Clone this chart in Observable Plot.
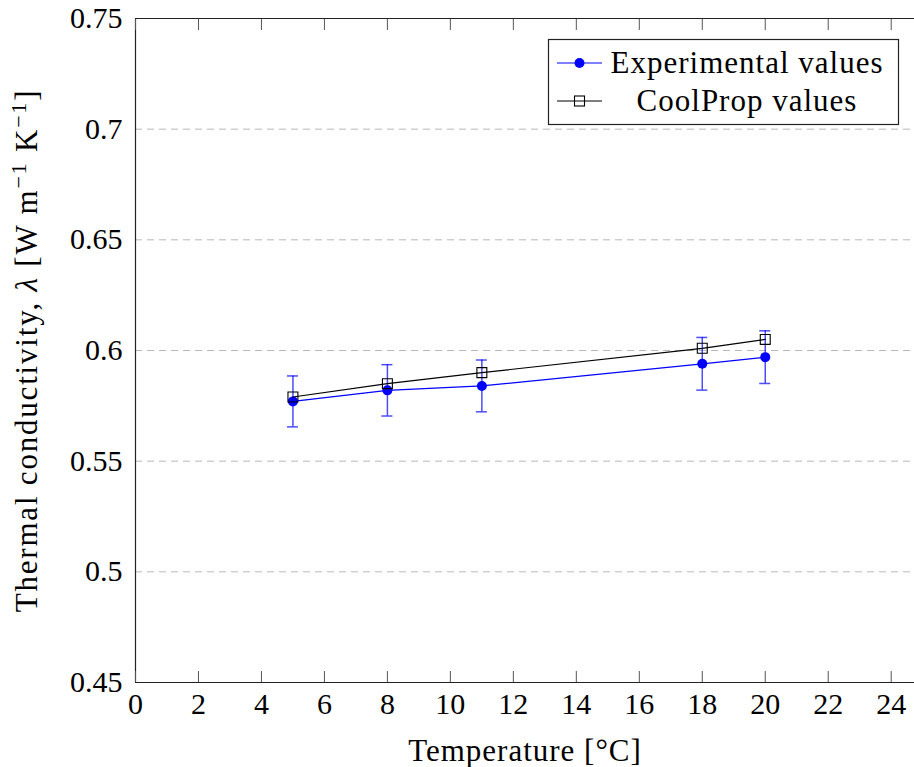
<!DOCTYPE html>
<html>
<head>
<meta charset="utf-8">
<script src="https://cdn.jsdelivr.net/npm/d3@7"></script>
<script src="https://cdn.jsdelivr.net/npm/@observablehq/plot@0.6"></script>
<style>
  html, body { margin: 0; padding: 0; background: #fff; }
  #wrap { position: relative; width: 914px; height: 767px; }
  #legend { position: absolute; left: 0; top: 0; pointer-events: none; }
</style>
</head>
<body>
<div id="wrap"></div>
<script>
// ---- data ----
const temperatures = [5, 8, 11, 18, 20];
const experimentalValues = [0.577, 0.582, 0.584, 0.594, 0.597];
const experimentalErrors = [0.0115, 0.0116, 0.0117, 0.0119, 0.0119];
const coolPropValues = [0.579, 0.585, 0.590, 0.601, 0.605];
const xTicks = [0, 2, 4, 6, 8, 10, 12, 14, 16, 18, 20, 22, 24];
const yTicks = [0.45, 0.5, 0.55, 0.6, 0.65, 0.7, 0.75];
const yTickLabels = ["0.45", "0.5", "0.55", "0.6", "0.65", "0.7", "0.75"];
const seriesNames = ["Experimental values", "CoolProp values"];

const expData = temperatures.map((t, i) => ({t, v: experimentalValues[i], e: experimentalErrors[i]}));
const coolData = temperatures.map((t, i) => ({t, v: coolPropValues[i]}));
const yLabelMap = new Map(yTicks.map((d, i) => [d, yTickLabels[i]]));

const FONT = "'Liberation Serif', 'DejaVu Serif', serif";
const BLUE = "#0000ff";

const chart = Plot.plot({
  width: 914,
  height: 767,
  marginLeft: 135,
  marginRight: 0,
  marginTop: 18,
  marginBottom: 85,
  style: {fontFamily: FONT, fontSize: "30px", color: "#000", background: "#fff"},
  x: {domain: [0, 24.74]},
  y: {domain: [0.45, 0.75]},
  marks: [
    // grid
    Plot.ruleY(yTicks.slice(1, -1), {stroke: "#b8b8b8", strokeWidth: 1, strokeDasharray: "7,5"}),
    // frame
    Plot.ruleY([yTicks[0], yTicks[yTicks.length - 1]], {stroke: "#222", strokeWidth: 1.2}),
    Plot.ruleX([xTicks[0]], {stroke: "#222", strokeWidth: 1.2}),
    // axes
    Plot.axisY(yTicks, {
      tickSize: 0, tickPadding: 13,
      tickFormat: d => yLabelMap.get(d),
      label: "Thermal conductivity, λ [W m-1 K-1]",
      labelAnchor: "center", labelOffset: 121, labelArrow: "none"
    }),
    Plot.axisX(xTicks, {
      tickSize: 0, tickPadding: 10,
      tickFormat: d => String(d),
      label: "Temperature [°C]",
      labelAnchor: "center", labelOffset: 78, labelArrow: "none"
    }),
    Plot.axisX(xTicks, {tickSize: -11, tickFormat: () => "", label: null, stroke: "#555"}),
    Plot.axisX(xTicks, {anchor: "top", tickSize: -11, tickFormat: () => "", label: null, stroke: "#555"}),
    // experimental series
    Plot.line(expData, {x: "t", y: "v", stroke: BLUE, strokeWidth: 1.2}),
    Plot.ruleX(expData, {x: "t", y1: d => d.v - d.e, y2: d => d.v + d.e, stroke: BLUE, strokeOpacity: 0.7, strokeWidth: 1.5}),
    Plot.ruleY(expData, {y: d => d.v + d.e, x1: "t", x2: "t", insetLeft: -5.5, insetRight: -5.5, stroke: BLUE, strokeOpacity: 0.7, strokeWidth: 1.5}),
    Plot.ruleY(expData, {y: d => d.v - d.e, x1: "t", x2: "t", insetLeft: -5.5, insetRight: -5.5, stroke: BLUE, strokeOpacity: 0.7, strokeWidth: 1.5}),
    Plot.dot(expData, {x: "t", y: "v", r: 5, fill: BLUE, stroke: "none"}),
    // CoolProp series
    Plot.line(coolData, {x: "t", y: "v", stroke: "#000", strokeWidth: 1.2}),
    Plot.dot(coolData, {x: "t", y: "v", symbol: "square", r: 5.6, fill: "none", stroke: "#000", strokeWidth: 1.1})
  ]
});

document.getElementById("wrap").appendChild(chart);

// rich y label: italic lambda and superscripts; wider spacing like Computer Modern
const svgNS = "http://www.w3.org/2000/svg";
chart.querySelectorAll("text").forEach(t => {
  if (t.textContent.startsWith("Thermal conductivity")) {
    t.setAttribute("font-size", "31");
    t.setAttribute("letter-spacing", "1.8");
    while (t.firstChild) t.removeChild(t.firstChild);
    const parts = [
      {s: "Thermal conductivity, "},
      {s: "λ", italic: true},
      {s: " [W m"},
      {s: "−1", sup: true},
      {s: " K", down: true},
      {s: "−1", sup: true},
      {s: "]", down: true}
    ];
    parts.forEach(p => {
      const ts = document.createElementNS(svgNS, "tspan");
      ts.textContent = p.s;
      if (p.italic) ts.setAttribute("font-style", "italic");
      if (p.sup) { ts.setAttribute("dy", "-11"); ts.setAttribute("font-size", "22"); }
      if (p.down) ts.setAttribute("dy", "11");
      t.appendChild(ts);
    });
  } else if (t.textContent.startsWith("Temperature")) {
    t.setAttribute("font-size", "31");
    t.setAttribute("letter-spacing", "1");
  }
});

// legend
const legend = d3.select("#wrap").append("svg")
  .attr("id", "legend")
  .attr("width", 914).attr("height", 767)
  .style("font-family", FONT).style("font-size", "31px").style("letter-spacing", "1px");
legend.append("rect")
  .attr("x", 548.5).attr("y", 39.5).attr("width", 350).attr("height", 85)
  .attr("fill", "#fff").attr("stroke", "#222").attr("stroke-width", 1.2);
const rows = [63, 101];
// row 1
legend.append("line").attr("x1", 557).attr("x2", 602).attr("y1", rows[0]).attr("y2", rows[0])
  .attr("stroke", BLUE).attr("stroke-width", 1.2);
legend.append("circle").attr("cx", 579.5).attr("cy", rows[0]).attr("r", 5).attr("fill", BLUE);
legend.append("text").attr("x", 747).attr("y", rows[0] + 10).attr("text-anchor", "middle").text(seriesNames[0]);
// row 2
legend.append("line").attr("x1", 557).attr("x2", 602).attr("y1", rows[1]).attr("y2", rows[1])
  .attr("stroke", "#000").attr("stroke-width", 1.2);
legend.append("rect").attr("x", 574.5).attr("y", rows[1] - 5).attr("width", 10).attr("height", 10)
  .attr("fill", "none").attr("stroke", "#000").attr("stroke-width", 1.1);
legend.append("text").attr("x", 747).attr("y", rows[1] + 10).attr("text-anchor", "middle").text(seriesNames[1]);
</script>
</body>
</html>
